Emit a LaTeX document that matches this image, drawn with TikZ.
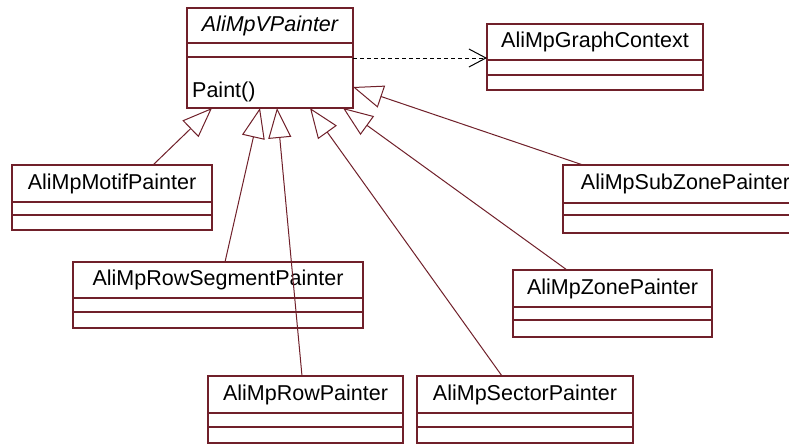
\documentclass[tikz,border=0pt]{standalone}
\usepackage{fontspec}
\setmainfont{Liberation Sans}
\usetikzlibrary{positioning,arrows.meta}
\definecolor{umlred}{RGB}{112,32,42}
\newcommand{\umlfont}{\fontsize{21.5}{26}\selectfont}

\begin{document}
\begin{tikzpicture}[x=1pt, y=-1pt,
    classname/.style={draw=umlred, line width=1.3pt, fill=white, anchor=north west,
        inner sep=0pt, outer sep=0pt, minimum height=37pt, font=\umlfont},
    compart/.style={draw=umlred, line width=1.3pt, fill=white, inner sep=0pt,
        outer sep=0pt, below=0pt of #1},
    inherit/.style={draw=umlred, line width=1pt, -{Triangle[open, length=30pt, width=23pt]}},
    depend/.style={draw=black, line width=1pt, dash pattern=on 4pt off 3pt,
        -{Straight Barb[length=17pt, width=18pt]}}]
    \fill[white] (0,0) rectangle (789,445);
    \useasboundingbox (0,0) rectangle (789,445);

    \node[classname, minimum width=166pt, minimum height=35pt, font=\umlfont\itshape] (vpainter) at (187,8) {AliMpVPainter};
    \node[compart=vpainter, minimum width=166pt, minimum height=14pt] (vpainter-att) {};
    \node[compart=vpainter-att, minimum width=166pt, minimum height=51pt] (vpainter-op) {};
    \node[anchor=base west, inner sep=0pt, font=\umlfont] (vpainter-paint) at ([shift={(5pt,-40pt)}]vpainter-op.north west) {Paint()};

    \node[classname, minimum width=216pt, minimum height=36pt] (ctx) at (487,24) {AliMpGraphContext};
    \node[compart=ctx, minimum width=216pt, minimum height=15pt] (ctx-att) {};
    \node[compart=ctx-att, minimum width=216pt, minimum height=15pt] (ctx-op) {};

    \node[classname, minimum width=200pt] (motif) at (12,165) {AliMpMotifPainter};
    \node[compart=motif, minimum width=200pt, minimum height=13pt] (motif-att) {};
    \node[compart=motif-att, minimum width=200pt, minimum height=15pt] (motif-op) {};

    \node[classname, minimum width=245pt, minimum height=38pt] (subzone) at (563,165) {AliMpSubZonePainter};
    \node[compart=subzone, minimum width=245pt, minimum height=12pt] (subzone-att) {};
    \node[compart=subzone-att, minimum width=245pt, minimum height=18pt] (subzone-op) {};

    \node[classname, minimum width=290pt, minimum height=36pt] (rowseg) at (73,262) {AliMpRowSegmentPainter};
    \node[compart=rowseg, minimum width=290pt, minimum height=14pt] (rowseg-att) {};
    \node[compart=rowseg-att, minimum width=290pt, minimum height=16pt] (rowseg-op) {};

    \node[classname, minimum width=199pt] (zone) at (513,270) {AliMpZonePainter};
    \node[compart=zone, minimum width=199pt, minimum height=13pt] (zone-att) {};
    \node[compart=zone-att, minimum width=199pt, minimum height=17pt] (zone-op) {};

    \node[classname, minimum width=195pt] (row) at (208,376) {AliMpRowPainter};
    \node[compart=row, minimum width=195pt, minimum height=14pt] (row-att) {};
    \node[compart=row-att, minimum width=195pt, minimum height=16pt] (row-op) {};

    \node[classname, minimum width=216pt] (sector) at (417,376) {AliMpSectorPainter};
    \node[compart=sector, minimum width=216pt, minimum height=14pt] (sector-att) {};
    \node[compart=sector-att, minimum width=216pt, minimum height=16pt] (sector-op) {};

    \draw[inherit] ([xshift=141pt]motif.north west) -- ([xshift=25pt]vpainter-op.south west);
    \draw[inherit] ([xshift=152pt]rowseg.north west) -- ([xshift=73pt]vpainter-op.south west);
    \draw[inherit] ([xshift=94pt]row.north west) -- ([xshift=90pt]vpainter-op.south west);
    \draw[inherit] ([xshift=85pt]sector.north west) -- ([xshift=123pt]vpainter-op.south west);
    \draw[inherit] ([xshift=54pt]zone.north west) -- ([xshift=156pt]vpainter-op.south west);
    \draw[inherit] ([xshift=20pt]subzone.north west) -- ([yshift=21pt]vpainter-op.south east);

    \coordinate (dep-start) at ([yshift=-50pt]vpainter.north east);
    \draw[depend] (dep-start) -- (dep-start -| ctx.west);
\end{tikzpicture}
\end{document}
